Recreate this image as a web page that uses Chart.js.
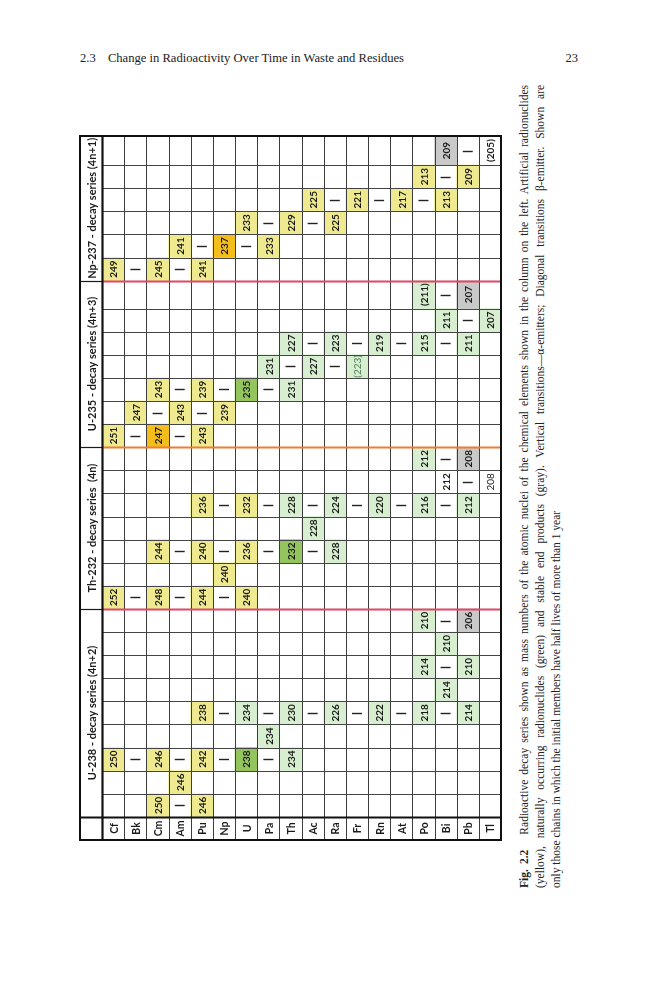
<!DOCTYPE html>
<html>
<head>
<meta charset="utf-8">
<script src="https://cdn.jsdelivr.net/npm/chart.js@4.4.1/dist/chart.umd.min.js"></script>
<style>
  html, body { margin: 0; padding: 0; background: #fff; }
  .page { position: relative; width: 659px; height: 1000px; overflow: hidden; }
  .runhead { position: absolute; left: 80px; top: 51px; font: 12.6px "Liberation Serif", serif; color: #222; white-space: nowrap; }
  .runhead span { margin-right: 9px; }
  .folio { position: absolute; left: 538px; width: 40px; top: 51px; text-align: right; font: 12.6px "Liberation Serif", serif; color: #222; }
  #wrap { position: absolute; left: 78px; top: 134px; width: 425px; height: 708px; }
  .caption { position: absolute; left: 516px; top: 888px; width: 803px; transform-origin: 0 0; transform: rotate(-90deg);
             font: 11.5px/16px "Liberation Serif", serif; color: #222; }
  .caption .j { text-align: justify; text-align-last: justify; }
</style>
</head>
<body>
<div class="page">
  <div class="runhead"><span>2.3</span> Change in Radioactivity Over Time in Waste and Residues</div>
  <div class="folio">23</div>
  <div id="wrap"><canvas id="tabela"></canvas></div>
  <div class="caption">
    <div class="j"><b>Fig. 2.2</b>&nbsp;&nbsp; Radioactive decay series shown as mass numbers of the atomic nuclei of the chemical elements shown in the column on the left. Artificial radionuclides</div>
    <div class="j">(yellow), naturally occurring radionuclides (green) and stable end products (gray). Vertical transitions—α-emitters; Diagonal transitions β-emitter. Shown are</div>
    <div>only those chains in which the initial members have half lives of more than 1 year</div>
  </div>
</div>

<script>
// Elements of the table, heaviest first (Cf ... Tl)
const elementos = ['Cf', 'Bk', 'Cm', 'Am', 'Pu', 'Np', 'U', 'Pa', 'Th', 'Ac', 'Ra', 'Fr', 'Rn', 'At', 'Po', 'Bi', 'Pb', 'Tl'];

const seriesTitles = ['U-238 - decay series (4n+2)', 'Th-232 - decay series  (4n)', 'U-235 - decay series (4n+3)', 'Np-237 - decay series (4n+1)'];

// Each column of a series: nuclides as [element, mass number, kind]
// consecutive nuclides of a column are alpha steps (two elements apart)
const u238Columns = [
  [['Cm', 250, 'art'], ['Pu', 246, 'art']],
  [['Am', 246, 'art']],
  [['Cf', 250, 'art'], ['Cm', 246, 'art'], ['Pu', 242, 'art'], ['U', 238, 'parent'], ['Th', 234, 'nat']],
  [['Pa', 234, 'nat']],
  [['Pu', 238, 'art'], ['U', 234, 'nat'], ['Th', 230, 'nat'], ['Ra', 226, 'nat'], ['Rn', 222, 'nat'], ['Po', 218, 'nat'], ['Pb', 214, 'nat']],
  [['Bi', 214, 'nat']],
  [['Po', 214, 'nat'], ['Pb', 210, 'nat']],
  [['Bi', 210, 'nat']],
  [['Po', 210, 'nat'], ['Pb', 206, 'stable']]
];

const th232Columns = [
  [['Cf', 252, 'art'], ['Cm', 248, 'art'], ['Pu', 244, 'art'], ['U', 240, 'art']],
  [['Np', 240, 'art']],
  [['Cm', 244, 'art'], ['Pu', 240, 'art'], ['U', 236, 'art'], ['Th', 232, 'parent'], ['Ra', 228, 'nat']],
  [['Ac', 228, 'nat']],
  [['Pu', 236, 'art'], ['U', 232, 'art'], ['Th', 228, 'nat'], ['Ra', 224, 'nat'], ['Rn', 220, 'nat'], ['Po', 216, 'nat'], ['Pb', 212, 'nat']],
  [['Bi', 212, 'blank'], ['Tl', 208, 'plain']],
  [['Po', 212, 'nat'], ['Pb', 208, 'stable']]
];

const u235Columns = [
  [['Cf', 251, 'art'], ['Cm', 247, 'head'], ['Pu', 243, 'art']],
  [['Bk', 247, 'art'], ['Am', 243, 'art'], ['Np', 239, 'art']],
  [['Cm', 243, 'art'], ['Pu', 239, 'art'], ['U', 235, 'parent'], ['Th', 231, 'nat']],
  [['Pa', 231, 'nat'], ['Ac', 227, 'nat'], ['Fr', 223, 'minor']],
  [['Th', 227, 'nat'], ['Ra', 223, 'nat'], ['Rn', 219, 'nat'], ['Po', 215, 'nat'], ['Pb', 211, 'nat']],
  [['Bi', 211, 'nat'], ['Tl', 207, 'nat']],
  [['Po', 211, 'branch'], ['Pb', 207, 'stable']]
];

const np237Columns = [
  [['Cf', 249, 'art'], ['Cm', 245, 'art'], ['Pu', 241, 'art']],
  [['Am', 241, 'art'], ['Np', 237, 'head'], ['Pa', 233, 'art']],
  [['U', 233, 'art'], ['Th', 229, 'art'], ['Ra', 225, 'art']],
  [['Ac', 225, 'art'], ['Fr', 221, 'art'], ['At', 217, 'art'], ['Bi', 213, 'art']],
  [['Po', 213, 'art'], ['Pb', 209, 'art']],
  [['Bi', 209, 'stable'], ['Tl', 205, 'tail']]
];

// Look of each kind of cell
const kinds = {
  art:    { fill: '#efea90', weight: 'bold' },
  head:   { fill: '#f3bd1c', weight: 'bold' },
  parent: { fill: '#93c45e', weight: 'bold' },
  nat:    { fill: '#d7eed0', weight: 'bold' },
  stable: { fill: '#c9c9c9', weight: 'bold' },
  blank:  { fill: '#ffffff', weight: 'bold' },
  plain:  { fill: '#ffffff', weight: 'normal' },
  branch: { fill: '#d7eed0', weight: 'bold', brackets: true },
  minor:  { fill: '#d7eed0', weight: 'normal', brackets: true, color: '#4f7f55' },
  tail:   { fill: '#ffffff', weight: 'bold', brackets: true }
};

// Layout: the columns holding bold bracketed numbers are a little wider
const colWidths = { '2-6': 1.21, '3-5': 1.26 };
const sepColors = ['#de4767', '#ee7c35', '#de4767'];

// Build the cells (track 0..1 is the strip with the element names)
const allSeries = [u238Columns, th232Columns, u235Columns, np237Columns];
const cells = [];
const links = [];
const bounds = [];
const spans = [];
let pos = 1;
allSeries.forEach((cols, si) => {
  const start = pos;
  cols.forEach((col, ci) => {
    const lo = pos;
    const hi = pos + (colWidths[si + '-' + ci] || 1);
    col.forEach((n, k) => {
      cells.push({ x: n[0], y: [lo, hi], mass: n[1], kind: n[2] });
      if (k > 0) {
        links.push({ el: elementos[elementos.indexOf(n[0]) - 1], mid: (lo + hi) / 2 });
      }
    });
    pos = hi;
    if (ci < cols.length - 1) bounds.push(pos);
  });
  spans.push([start, pos]);
});
const TOTAL = pos;

function textoGirado(ctx, text, x, y, font, color) {
  ctx.save();
  ctx.translate(x, y);
  ctx.rotate(-Math.PI / 2);
  ctx.font = font;
  ctx.fillStyle = color;
  ctx.textAlign = 'center';
  ctx.textBaseline = 'middle';
  ctx.fillText(text, 0, 1);
  ctx.restore();
}

function linha(ctx, x1, y1, x2, y2, color, width) {
  ctx.beginPath();
  ctx.strokeStyle = color;
  ctx.lineWidth = width;
  ctx.moveTo(x1, y1);
  ctx.lineTo(x2, y2);
  ctx.stroke();
}

// Grid, texts and transition marks drawn on top of the bars
const tablePlugin = {
  id: 'tabela',
  afterDatasetsDraw(chart) {
    const { ctx, chartArea: a, scales: { x, y } } = chart;
    const cw = x.getPixelForValue(1) - x.getPixelForValue(0);
    const edge = i => Math.round(a.left + i * cw) + 0.5;
    const yy = v => Math.round(y.getPixelForValue(v)) + 0.5;
    const dataLeft = edge(1);
    const right = edge(elementos.length + 1);

    // numbers inside the cells
    const meta = chart.getDatasetMeta(0);
    meta.data.forEach((bar, i) => {
      const c = cells[i];
      const k = kinds[c.kind];
      const txt = k.brackets ? '(' + c.mass + ')' : String(c.mass);
      textoGirado(ctx, txt, bar.x, (bar.y + bar.base) / 2, k.weight + ' 10px Lato', k.color || '#1b1b1b');
    });

    // alpha transition marks
    links.forEach(l => {
      const cx = x.getPixelForValue(elementos.indexOf(l.el) + 1);
      const cy = Math.round(y.getPixelForValue(l.mid)) + 0.5;
      linha(ctx, cx - 5, cy, cx + 5, cy, '#222', 1.4);
    });

    // thin grid of the data part
    for (let i = 2; i <= elementos.length; i++) {
      linha(ctx, edge(i), a.top, edge(i), a.bottom, '#3d3d3d', 1);
    }
    bounds.forEach(b => linha(ctx, dataLeft, yy(b), right, yy(b), '#454545', 1));

    // series separators
    spans.slice(0, 3).forEach((s, i) => {
      linha(ctx, dataLeft, yy(s[1]), right, yy(s[1]), sepColors[i], 1.8);
      linha(ctx, a.left, yy(s[1]), dataLeft, yy(s[1]), '#1a1a1a', 1.2);
    });

    // strong lines: name strip, title column, outer frame
    linha(ctx, a.left, yy(1), right, yy(1), '#111', 2.2);
    linha(ctx, dataLeft, a.top, dataLeft, a.bottom, '#111', 2.2);
    ctx.strokeStyle = '#111';
    ctx.lineWidth = 2;
    ctx.strokeRect(a.left, a.top, a.right - a.left, a.bottom - a.top);

    // element names
    elementos.forEach((el, i) => {
      textoGirado(ctx, el, x.getPixelForValue(i + 1), y.getPixelForValue(0.5), 'bold 10.5px Lato', '#1b1b1b');
    });

    // series titles
    spans.forEach((s, i) => {
      textoGirado(ctx, seriesTitles[i], x.getPixelForValue(0), y.getPixelForValue((s[0] + s[1]) / 2), 'bold 11px Lato', '#1b1b1b');
    });
  }
};

new Chart(document.getElementById('tabela'), {
  type: 'bar',
  data: {
    labels: [''].concat(elementos),
    datasets: [{
      data: cells,
      backgroundColor: ctx => (ctx.raw ? kinds[ctx.raw.kind].fill : '#fff'),
      borderWidth: 0,
      categoryPercentage: 1,
      barPercentage: 1
    }]
  },
  options: {
    responsive: true,
    maintainAspectRatio: false,
    animation: false,
    layout: { padding: 2 },
    plugins: {
      legend: { display: false },
      tooltip: { enabled: false }
    },
    scales: {
      x: { display: false, offset: true },
      y: { display: false, min: 0, max: TOTAL }
    }
  },
  plugins: [tablePlugin]
});
</script>
</body>
</html>
